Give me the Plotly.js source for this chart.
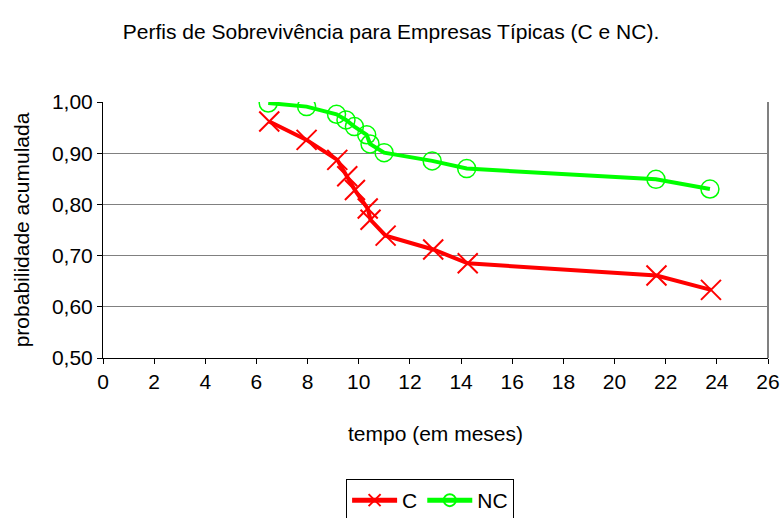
<!DOCTYPE html>
<html>
<head>
<meta charset="utf-8">
<script src="https://cdn.plot.ly/plotly-3.0.1.min.js"></script>
<style>html,body{margin:0;padding:0;background:#fff;}#chart{width:782px;height:518px;}</style>
</head>
<body>
<div id="chart"></div>
<script>
const seriesNames = ["C", "NC"];
const tempoC = [6.50, 7.96, 9.16, 9.55, 9.85, 10.35, 10.46, 11.05, 12.91, 14.26, 21.64, 23.77];
const probC  = [0.962, 0.926, 0.887, 0.855, 0.828, 0.792, 0.770, 0.739, 0.712, 0.685, 0.661, 0.633];
const tempoNC = [6.46, 7.96, 9.13, 9.50, 9.83, 10.31, 10.44, 10.99, 12.87, 14.22, 21.62, 23.73];
const probNC  = [0.998, 0.991, 0.976, 0.965, 0.952, 0.936, 0.918, 0.901, 0.885, 0.870, 0.849, 0.830];
const xTicks = [0,2,4,6,8,10,12,14,16,18,20,22,24,26];
const yTicks = [0.5,0.6,0.7,0.8,0.9,1.0];

const font = "Liberation Sans, Arial, sans-serif";
const fs = 21;
const traces = [
  {x: tempoC, y: probC, name: seriesNames[0], mode: "lines+markers", type: "scatter",
   line: {color: "#FF0000", width: 4},
   marker: {symbol: "x-thin-open", size: 20, color: "#FF0000", line: {color: "#FF0000", width: 2}}},
  {x: tempoNC, y: probNC, name: seriesNames[1], mode: "lines+markers", type: "scatter",
   line: {color: "#00FF00", width: 4},
   marker: {symbol: "circle-open", size: 18, color: "#00FF00", line: {color: "#00FF00", width: 1.5}}}
];
const layout = {
  width: 782, height: 518,
  margin: {l: 103, r: 14, t: 102, b: 160},
  paper_bgcolor: "#fff", plot_bgcolor: "#fff",
  separators: ",.",
  font: {family: font, size: fs, color: "#000"},
  title: {text: "Perfis de Sobrevivência para Empresas Típicas (C e NC).", x: 0.5, xanchor: "center", y: 0.938, yanchor: "middle", font: {size: fs}},
  xaxis: {range: [0, 26], tickvals: xTicks, ticktext: xTicks.map(String), ticks: "outside", ticklen: 5, tickcolor: "#000",
    showline: true, linecolor: "#000", linewidth: 1, showgrid: false, zeroline: false, mirror: false, automargin: false,
    title: {text: "tempo (em meses)", standoff: 34, font: {size: fs}}, tickfont: {size: fs}},
  yaxis: {range: [0.5, 1.0], tickvals: yTicks, tickformat: ".2f", ticks: "outside", ticklen: 5, tickcolor: "#000",
    showline: true, linecolor: "#000", linewidth: 1, showgrid: true, gridcolor: "#808080", gridwidth: 1, zeroline: false, automargin: false,
    title: {text: "probabilidade acumulada", standoff: 16, font: {size: fs}}, tickfont: {size: fs}},
  shapes: [
    {type: "line", xref: "paper", yref: "paper", x0: 1, x1: 1, y0: 0, y1: 1, line: {color: "#808080", width: 2}}
  ],
  legend: {orientation: "h", x: 0.55, xanchor: "center", xref: "container", y: 0.0753, yanchor: "top", yref: "container", itemsizing: "constant",
    bordercolor: "#000", borderwidth: 1, bgcolor: "#fff", font: {size: fs}, itemwidth: 45}
};
Plotly.newPlot("chart", traces, layout, {displayModeBar: false, staticPlot: true});
</script>
</body>
</html>
